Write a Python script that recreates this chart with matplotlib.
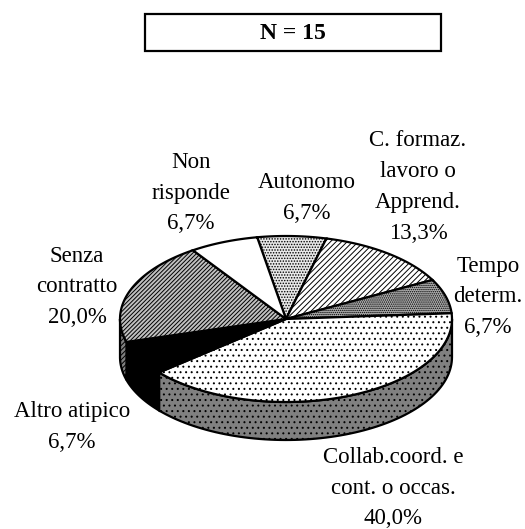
import numpy as np
import matplotlib
matplotlib.use("Agg")
import matplotlib.pyplot as plt
from matplotlib.patches import Polygon, Rectangle

plt.rcParams["font.family"] = ["Liberation Serif", "DejaVu Serif"]
plt.rcParams["hatch.linewidth"] = 0.7

# slices clockwise, starting from Autonomo
labels = ["Autonomo", "C. formaz.\nlavoro o\nApprend.", "Tempo\ndeterm.",
          "Collab.coord. e\ncont. o occas.", "Altro atipico", "Senza\ncontratto", "Non\nrisponde"]
values = [6.7, 13.3, 6.7, 40.0, 6.7, 20.0, 6.7]

# top face style for each slice
top_colors = ["#e8e8e8", "white", "#b0b0b0", "white", "black", "#c0c0c0", "white"]
top_hatches = ["......", "//////", "........", "...", None, "////////", None]
# side wall style for each slice
side_colors = ["#e8e8e8", "white", "#b0b0b0", "#808080", "black", "#808080", "white"]
side_hatches = [None, None, None, "...", None, "///////", None]

label_pos = [(307, 198), (418, 187), (488, 297), (393, 488), (72, 427), (77, 287), (191, 193)]

cx, cy, rx, ry, depth = 286, 319, 166, 83, 38
start = 100


def rim(a, b, n=80, dy=0):
    t = np.radians(np.linspace(a, b, n))
    return np.column_stack([cx + rx * np.cos(t), cy + dy - ry * np.sin(t)])


fig = plt.figure(figsize=(5.25, 5.29), dpi=100)
ax = fig.add_axes([0, 0, 1, 1])
ax.set_xlim(0, 525)
ax.set_ylim(529, 0)
ax.axis("off")

# box on top
ax.add_patch(Rectangle((145, 14), 296, 37, fc="white", ec="black", lw=1.6))
ax.text(293, 33.5, "N = 15", ha="center", va="center", fontsize=17, fontweight="bold")

# angles for each slice
total = sum(values)
angle = start
edges = []
for v in values:
    edges.append((angle, angle - v / total * 360))
    angle = edges[-1][1]

# side walls, only the front half is visible
for i, (a, b) in enumerate(edges):
    hi = min(a, 0)
    lo = max(b, -180)
    if hi <= lo:
        continue
    upper = rim(hi, lo)
    lower = rim(lo, hi, dy=depth)
    ax.add_patch(Polygon(np.vstack([upper, lower]), closed=True, fc=side_colors[i],
                         ec="black", lw=1.6, hatch=side_hatches[i]))

# top face
for i, (a, b) in enumerate(edges):
    pts = np.vstack([[cx, cy], rim(a, b)])
    ax.add_patch(Polygon(pts, closed=True, fc=top_colors[i], ec="black", lw=1.6,
                         hatch=top_hatches[i]))

for lab, v, (x, y) in zip(labels, values, label_pos):
    txt = lab + "\n" + f"{v:.1f}".replace(".", ",") + "%"
    ax.text(x, y, txt, ha="center", va="center", fontsize=16.5, linespacing=1.62)

fig.savefig("out.png", dpi=100)
